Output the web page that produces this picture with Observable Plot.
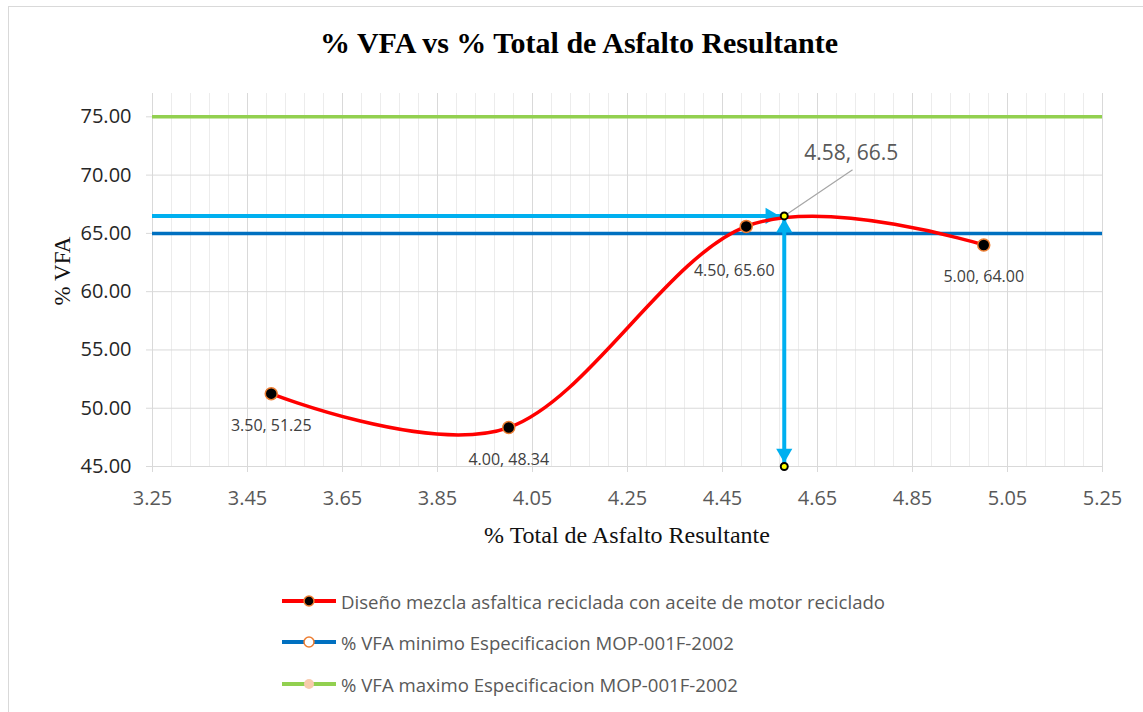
<!DOCTYPE html>
<html><head><meta charset="utf-8">
<script src="https://cdn.jsdelivr.net/npm/d3@7"></script>
<script src="https://cdn.jsdelivr.net/npm/@observablehq/plot@0.6"></script>
<style>
body{margin:0;background:#fff}
#wrap{position:relative;width:1143px;height:712px;overflow:hidden;background:#fff}
#frame{position:absolute;left:8px;top:6px;width:1142px;height:760px;border:1px solid #d9d9d9;box-sizing:border-box}
#chart{position:absolute;left:0;top:0}
.ttl{position:absolute;font-family:"Liberation Serif","Times New Roman",serif;color:#000;white-space:nowrap;line-height:1}
#title{left:8px;width:1142px;text-align:center;top:28px;font-size:30px;font-weight:bold}
#xlab{left:152px;width:950px;text-align:center;top:523px;font-size:24px;color:#111}
#ylab{left:62px;top:271px;font-size:23px;color:#111;transform:translate(-50%,-50%) rotate(-90deg)}
#legend{position:absolute;left:282px;top:0;font-family:"Open Sans",sans-serif;color:#595959}
.lrow{position:absolute;left:0;height:30px;display:flex;align-items:center;white-space:nowrap;font-size:18.6px}
.lrow svg{margin-right:5px}
</style></head><body>
<div id="wrap">
  <div id="frame"></div>
  <div id="chart"></div>
  <div id="title" class="ttl">% VFA vs % Total de Asfalto Resultante</div>
  <div id="xlab" class="ttl">% Total de Asfalto Resultante</div>
  <div id="ylab" class="ttl">% VFA</div>
  <div id="legend"></div>
</div>
<script>
// ---- data ----
const asphalt = [3.50, 4.00, 4.50, 5.00];
const vfa = [51.25, 48.34, 65.60, 64.00];
const optimumAsphalt = 4.58;
const optimumVfa = 66.5;
const optimumLabel = "4.58, 66.5";
const vfaMin = 65;
const vfaMax = 75;
const xDomain = [3.25, 5.25];
const yDomain = [45, 77];
const xTicks = [3.25, 3.45, 3.65, 3.85, 4.05, 4.25, 4.45, 4.65, 4.85, 5.05, 5.25];
const yTicks = [45, 50, 55, 60, 65, 70, 75];
const seriesNames = [
  "Diseño mezcla asfaltica reciclada con aceite de motor reciclado",
  "% VFA minimo Especificacion MOP-001F-2002",
  "% VFA maximo Especificacion MOP-001F-2002"
];

const xMinor = d3.range(0, 51).map(i => xDomain[0] + i * 0.04).filter(v => !xTicks.some(t => Math.abs(t - v) < 1e-6));
const pts = asphalt.map((x, i) => ({x, y: vfa[i], i, label: `${x.toFixed(2)}, ${vfa[i].toFixed(2)}`}));
const opt = [{x: optimumAsphalt, y: optimumVfa, label: optimumLabel}];
const optBase = [{x: optimumAsphalt, y: yDomain[0]}];

const chart = Plot.plot({
  width: 1143, height: 560,
  marginLeft: 152, marginRight: 41, marginTop: 93, marginBottom: 94,
  style: {fontFamily: "'Open Sans', sans-serif", background: "transparent", overflow: "visible"},
  x: {domain: xDomain},
  y: {domain: yDomain},
  marks: [
    Plot.ruleX(xMinor, {stroke: "#ececec", strokeWidth: 1}),
    Plot.ruleX(xTicks, {stroke: "#d9d9d9", strokeWidth: 1}),
    Plot.ruleY(yTicks, {stroke: "#d9d9d9", strokeWidth: 1}),
    Plot.axisX({ticks: xTicks, tickFormat: d => d.toFixed(2), tickSize: 6, tickPadding: 18, stroke: "#d9d9d9", fill: "#595959", fontSize: 20, label: null}),
    Plot.axisY({ticks: yTicks, tickFormat: d => d.toFixed(2), tickSize: 6, tickPadding: 15, stroke: "#d9d9d9", fill: "#262626", fontSize: 20, label: null}),
    Plot.ruleY([vfaMax], {stroke: "#92D050", strokeWidth: 3.5}),
    Plot.ruleY([vfaMin], {stroke: "#0070C0", strokeWidth: 3.5}),
    // optimum guide arrows
    Plot.ruleY(opt, {y: "y", x1: () => xDomain[0], x2: "x", stroke: "#00B0F0", strokeWidth: 4}),
    Plot.ruleX(opt, {x: "x", y1: () => yDomain[0], y2: "y", stroke: "#00B0F0", strokeWidth: 4}),
    Plot.dot(opt, {x: "x", y: "y", symbol: "triangle", r: 6, rotate: 90, fill: "#00B0F0", dx: -14}),
    Plot.dot(opt, {x: "x", y: "y", symbol: "triangle", r: 6, rotate: 0, fill: "#00B0F0", dy: 12}),
    Plot.dot(optBase, {x: "x", y: "y", symbol: "triangle", r: 6, rotate: 180, fill: "#00B0F0", dy: -13}),
    // main series
    Plot.line(pts, {x: "x", y: "y", curve: "cardinal", stroke: "#FF0000", strokeWidth: 3.5}),
    Plot.dot(pts, {x: "x", y: "y", r: 6, fill: "#000", stroke: "#ED7D31", strokeWidth: 1.5}),
    Plot.text(pts.filter(d => d.i !== 2), {x: "x", y: "y", text: "label", dy: 32, fontSize: 16, fill: "#404040"}),
    Plot.text(pts.filter(d => d.i === 2), {x: "x", y: "y", text: "label", dx: -12, dy: 44, fontSize: 16, fill: "#404040"}),
    // optimum leader + label
    Plot.vector(opt, {x: "x", y: "y", length: 82, rotate: 56, anchor: "start", shape: "spike", r: 0.01, stroke: "#a6a6a6", fill: "#a6a6a6", strokeWidth: 1.2}),
    Plot.text(opt, {x: "x", y: "y", text: "label", dx: 20, dy: -63, textAnchor: "start", fontSize: 21, fill: "#595959"}),
    Plot.dot([...opt, ...optBase], {x: "x", y: "y", r: 3.5, fill: "#FFFF00", stroke: "#000", strokeWidth: 2})
  ]
});
document.getElementById("chart").appendChild(chart);

// ---- legend ----
const legendItems = [
  {name: seriesNames[0], line: "#FF0000", fill: "#000", stroke: "#ED7D31"},
  {name: seriesNames[1], line: "#0070C0", fill: "#fff", stroke: "#ED7D31"},
  {name: seriesNames[2], line: "#92D050", fill: "#F8CBAD", stroke: "none"}
];
const rowTops = [586, 627, 669];
const leg = d3.select("#legend");
legendItems.forEach((it, i) => {
  const row = leg.append("div").attr("class", "lrow").style("top", rowTops[i] + "px");
  const s = row.append("svg").attr("width", 54).attr("height", 30);
  s.append("line").attr("x1", 0).attr("x2", 54).attr("y1", 15).attr("y2", 15).attr("stroke", it.line).attr("stroke-width", 4);
  s.append("circle").attr("cx", 27).attr("cy", 15).attr("r", 5).attr("fill", it.fill).attr("stroke", it.stroke).attr("stroke-width", 1.5);
  row.append("span").text(it.name);
});
</script>
</body></html>
